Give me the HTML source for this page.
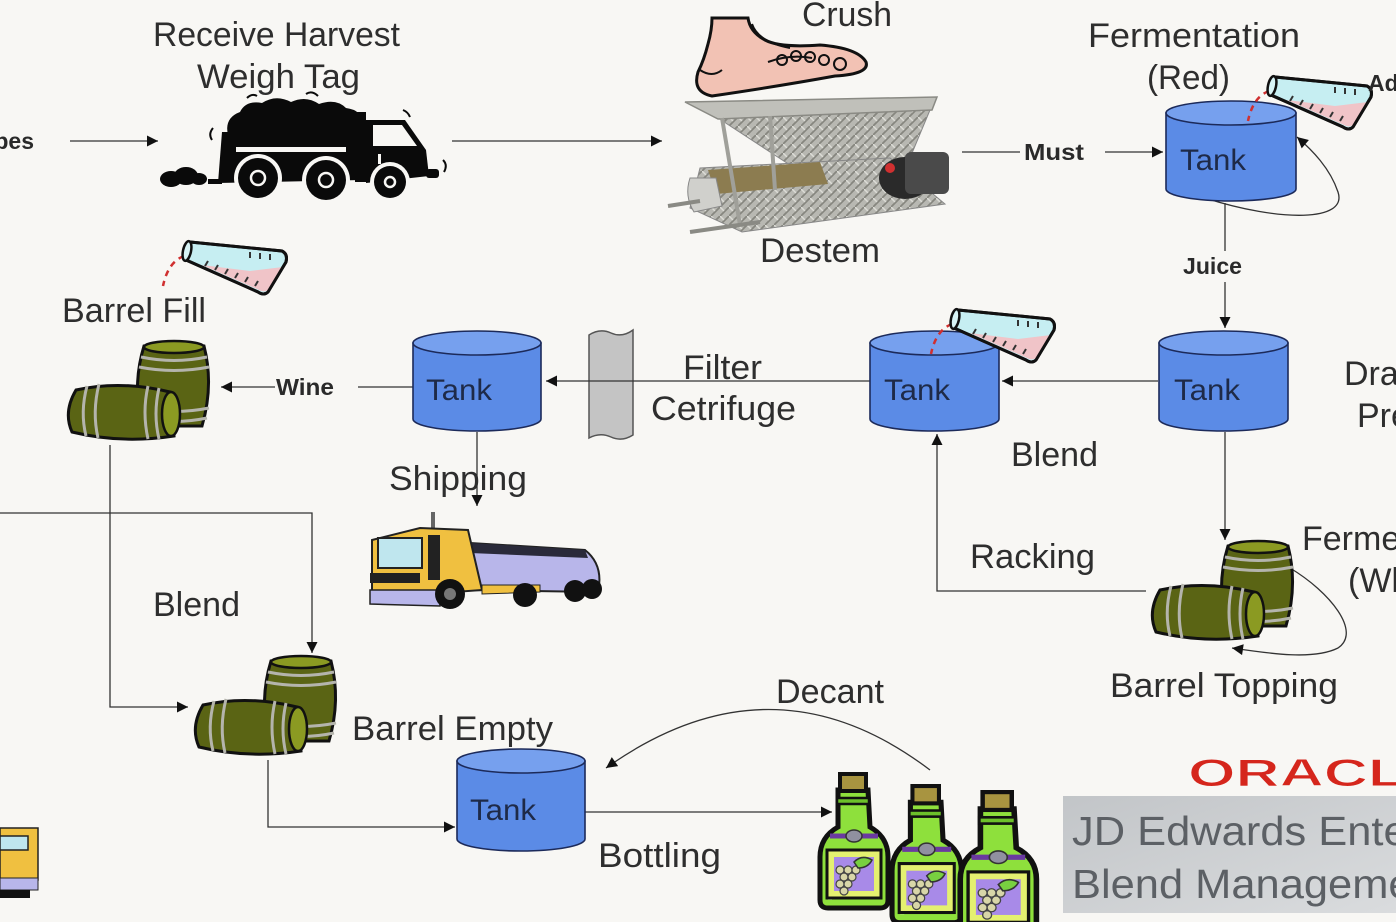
<!DOCTYPE html>
<html>
<head>
<meta charset="utf-8">
<style>
  html,body{margin:0;padding:0;background:#f8f7f4;}
  body{width:1396px;height:922px;overflow:hidden;}
  svg{display:block;}
  .lbl{font-family:"Liberation Sans",sans-serif;font-size:34px;fill:#2e2e2e;}
  .bl{font-family:"Liberation Sans",sans-serif;font-size:23px;font-weight:bold;fill:#2a2a2a;}
  .tk{font-family:"Liberation Sans",sans-serif;font-size:30px;fill:#1e2a48;}
  .ln{stroke:#333;stroke-width:1.3;fill:none;}
</style>
</head>
<body>
<svg width="1396" height="922" viewBox="0 0 1396 922" xmlns="http://www.w3.org/2000/svg">
<defs>
  <marker id="ah" viewBox="0 0 10 10" refX="10" refY="5" markerWidth="14" markerHeight="11" markerUnits="userSpaceOnUse" orient="auto">
    <path d="M0,0 L10,5 L0,10 Z" fill="#111"/>
  </marker>
  <pattern id="hatch" width="9" height="9" patternUnits="userSpaceOnUse">
    <rect width="9" height="9" fill="#b8b8b2"/>
    <path d="M0,9 L9,0" stroke="#86867f" stroke-width="1.8"/>
    <path d="M0,0 L4,4" stroke="#dcdcd6" stroke-width="1.5"/>
  </pattern>
  <linearGradient id="gbox" x1="0" y1="0" x2="1" y2="1">
    <stop offset="0" stop-color="#c2c5c8"/>
    <stop offset="1" stop-color="#dadcde"/>
  </linearGradient>
  <g id="barrels">
    <path d="M78,6 Q66,45 76,86 L136,86 Q148,45 138,6 Z" fill="#5a6414" stroke="#111" stroke-width="3"/>
    <ellipse cx="108" cy="7" rx="30" ry="6" fill="#8b9a22" stroke="#111" stroke-width="2.5"/>
    <path d="M75,17 Q108,24 141,17" stroke="#b4b4ac" stroke-width="3" fill="none"/>
    <path d="M73,27 Q108,34 143,27" stroke="#b4b4ac" stroke-width="3" fill="none"/>
    <path d="M73,68 Q108,75 143,68" stroke="#b4b4ac" stroke-width="3" fill="none"/>
    <path d="M75,78 Q108,85 141,78" stroke="#b4b4ac" stroke-width="3" fill="none"/>
    <path d="M10,50 Q55,40 104,52 L108,96 Q55,104 6,92 Q-3,72 10,50 Z" fill="#5a6414" stroke="#111" stroke-width="3"/>
    <ellipse cx="105" cy="74" rx="9" ry="22" fill="#8b9a22" stroke="#111" stroke-width="2.5"/>
    <path d="M21,46 Q14,72 20,96" stroke="#b4b4ac" stroke-width="3" fill="none"/>
    <path d="M33,44 Q26,72 32,98" stroke="#b4b4ac" stroke-width="3" fill="none"/>
    <path d="M82,46 Q76,72 82,99" stroke="#b4b4ac" stroke-width="3" fill="none"/>
    <path d="M93,48 Q87,74 93,99" stroke="#b4b4ac" stroke-width="3" fill="none"/>
  </g>
  <g id="flask">
    <path d="M24,16 Q8,22 3,46" stroke="#d03030" stroke-width="2.5" stroke-dasharray="6,5" fill="none"/>
    <path d="M30,2 L122,11 Q128,14 126,22 L108,52 Q104,56 98,52 L26,20 Z" fill="#c6eef2" stroke="#111" stroke-width="3"/>
    <path d="M42,25 L90,31 L123,27 L108,50 Q104,53 99,50 Z" fill="#f0c4c8"/>
    <path d="M45,26 L48,21 M55,30 L58,25 M65,34 L68,29 M75,38 L78,33 M85,42 L88,37 M95,46 L98,41 M90,12 L90,18 M100,13 L100,19 M110,14 L110,20" stroke="#333" stroke-width="2"/>
    <path d="M30,2 L122,11 Q128,14 126,22 L108,52 Q104,56 98,52 L26,20 Z" fill="none" stroke="#111" stroke-width="3"/>
    <ellipse cx="27" cy="11" rx="4" ry="10" fill="#d8f4f6" stroke="#111" stroke-width="2.5" transform="rotate(12 27 11)"/>
  </g>
  <g id="bottle">
    <path d="M20,18 L50,18 L52,55 Q70,65 70,85 L70,128 Q70,136 62,136 L10,136 Q2,136 2,128 L2,85 Q2,65 20,55 Z" fill="#8ee03c" stroke="#111" stroke-width="5"/>
    <path d="M12,80 L12,128" stroke="#c6f48a" stroke-width="4"/>
    <rect x="22" y="2" width="26" height="17" fill="#a89440" stroke="#111" stroke-width="4"/>
    <rect x="19" y="26" width="32" height="6" fill="#6cc02a" stroke="#111" stroke-width="2.5"/>
    <path d="M12,64 L60,64" stroke="#6a3aa0" stroke-width="5"/>
    <ellipse cx="36" cy="64" rx="8" ry="6" fill="#9090a0" stroke="#333" stroke-width="1.5"/>
    <rect x="9" y="78" width="54" height="48" fill="#e4f070" stroke="#111" stroke-width="3"/>
    <rect x="16" y="85" width="40" height="34" fill="#a88ae8"/>
    <g fill="#d8d6a8" stroke="#444" stroke-width="1.2">
      <circle cx="22" cy="98" r="4"/><circle cx="30" cy="98" r="4"/><circle cx="38" cy="98" r="4"/>
      <circle cx="26" cy="105" r="4"/><circle cx="34" cy="105" r="4"/>
      <circle cx="22" cy="112" r="4"/><circle cx="30" cy="112" r="4"/>
      <circle cx="26" cy="119" r="4"/>
    </g>
    <path d="M36,90 Q44,82 54,88 Q50,96 40,96 Z" fill="#78d040" stroke="#333" stroke-width="1.5"/>
  </g>
</defs>

<rect width="1396" height="922" fill="#f8f7f4"/>

<!-- ============ Connectors ============ -->
<line class="ln" x1="70" y1="141" x2="158" y2="141" marker-end="url(#ah)"/>
<line class="ln" x1="452" y1="141" x2="662" y2="141" marker-end="url(#ah)"/>
<line class="ln" x1="962" y1="152" x2="1020" y2="152"/>
<line class="ln" x1="1105" y1="152" x2="1163" y2="152" marker-end="url(#ah)"/>
<path class="ln" d="M1205,198 C1280,222 1348,222 1338,192 C1330,168 1312,150 1297,137" marker-end="url(#ah)"/>
<line class="ln" x1="1225" y1="203" x2="1225" y2="251"/>
<line class="ln" x1="1225" y1="282" x2="1225" y2="328" marker-end="url(#ah)"/>
<line class="ln" x1="1158" y1="381" x2="1002" y2="381" marker-end="url(#ah)"/>
<line class="ln" x1="1225" y1="432" x2="1225" y2="540" marker-end="url(#ah)"/>
<path class="ln" d="M1146,591 L937,591 L937,434" marker-end="url(#ah)"/>
<path class="ln" d="M1290,568 C1330,592 1362,632 1338,648 C1314,660 1272,654 1232,648" marker-end="url(#ah)"/>
<line class="ln" x1="413" y1="387" x2="358" y2="387"/>
<line class="ln" x1="275" y1="387" x2="221" y2="387" marker-end="url(#ah)"/>
<line class="ln" x1="477" y1="432" x2="477" y2="506" marker-end="url(#ah)"/>
<path class="ln" d="M110,445 L110,707 L188,707" marker-end="url(#ah)"/>
<path class="ln" d="M0,513 L312,513 L312,653" marker-end="url(#ah)"/>
<path class="ln" d="M268,760 L268,827 L455,827" marker-end="url(#ah)"/>
<line class="ln" x1="585" y1="812" x2="832" y2="812" marker-end="url(#ah)"/>
<path class="ln" d="M930,770 Q772,650 606,768" marker-end="url(#ah)"/>

<!-- Filter -->
<path d="M589,335 Q600,328 611,333 Q622,338 633,330 L633,435 Q622,442 611,437 Q600,432 589,438 Z" fill="#c4c4c4" stroke="#555" stroke-width="1.5"/>
<line class="ln" x1="870" y1="381" x2="546" y2="381" marker-end="url(#ah)"/>

<!-- ============ Tanks ============ -->
<g stroke="#1c2a5a" stroke-width="1.6">
  <path d="M1166,113 V189 A65,12 0 0 0 1296,189 V113 Z" fill="#5b8be6"/>
  <ellipse cx="1231" cy="113" rx="65" ry="12" fill="#76a0ee"/>
  <path d="M1159,343 V419 A64.5,12 0 0 0 1288,419 V343 Z" fill="#5b8be6"/>
  <ellipse cx="1223.5" cy="343" rx="64.5" ry="12" fill="#76a0ee"/>
  <path d="M870,343 V419 A64.5,12 0 0 0 999,419 V343 Z" fill="#5b8be6"/>
  <ellipse cx="934.5" cy="343" rx="64.5" ry="12" fill="#76a0ee"/>
  <path d="M413,343 V419 A64,12 0 0 0 541,419 V343 Z" fill="#5b8be6"/>
  <ellipse cx="477" cy="343" rx="64" ry="12" fill="#76a0ee"/>
  <path d="M457,761 V839 A64,12 0 0 0 585,839 V761 Z" fill="#5b8be6"/>
  <ellipse cx="521" cy="761" rx="64" ry="12" fill="#76a0ee"/>
</g>
<text class="tk" x="1180" y="170" textLength="66" lengthAdjust="spacingAndGlyphs">Tank</text>
<text class="tk" x="1174" y="400" textLength="66" lengthAdjust="spacingAndGlyphs">Tank</text>
<text class="tk" x="884" y="400" textLength="66" lengthAdjust="spacingAndGlyphs">Tank</text>
<text class="tk" x="426" y="400" textLength="66" lengthAdjust="spacingAndGlyphs">Tank</text>
<text class="tk" x="470" y="820" textLength="66" lengthAdjust="spacingAndGlyphs">Tank</text>

<!-- Flasks -->
<use href="#flask" x="1245" y="75"/>
<use href="#flask" x="928" y="308"/>
<use href="#flask" x="160" y="240"/>

<!-- Barrels -->
<use href="#barrels" x="66" y="340"/>
<use href="#barrels" x="193" y="655"/>
<use href="#barrels" x="1150" y="540"/>

<!-- Bottles -->
<use href="#bottle" transform="translate(818,772)"/>
<use href="#bottle" transform="translate(890,784) scale(1.02,1.02)"/>
<use href="#bottle" transform="translate(958,790) scale(1.12,1.05)"/>

<!-- ============ Dump truck ============ -->
<g>
  <path d="M228,135 Q224,118 240,112 Q246,100 262,103 Q276,94 291,102 Q306,95 319,104 Q336,98 346,108 Q362,110 364,124 L372,135 Z" fill="#0a0a0a"/>
  <path d="M222,132 L362,132 L362,180 L218,183 Z" fill="#0a0a0a"/>
  <rect x="355" y="112" width="11" height="70" fill="#0a0a0a"/>
  <rect x="236" y="147" width="110" height="5" fill="#f8f7f4"/>
  <path d="M366,120 L405,120 L426,150 L429,176 L366,183 Z" fill="#0a0a0a"/>
  <path d="M373,125 L402,125 L417,146 L373,146 Z" fill="#f8f7f4"/>
  <rect x="378" y="154" width="3" height="10" fill="#f8f7f4"/>
  <circle cx="258" cy="178" r="24" fill="#f8f7f4"/>
  <circle cx="326" cy="180" r="24" fill="#f8f7f4"/>
  <circle cx="390" cy="182" r="20" fill="#f8f7f4"/>
  <circle cx="258" cy="178" r="20" fill="#0a0a0a"/>
  <circle cx="326" cy="180" r="20" fill="#0a0a0a"/>
  <circle cx="390" cy="182" r="16" fill="#0a0a0a"/>
  <circle cx="258" cy="178" r="7" fill="none" stroke="#f8f7f4" stroke-width="2.5"/>
  <circle cx="326" cy="180" r="7" fill="none" stroke="#f8f7f4" stroke-width="2.5"/>
  <circle cx="390" cy="182" r="5" fill="none" stroke="#f8f7f4" stroke-width="2.5"/>
  <ellipse cx="171" cy="179" rx="11" ry="8" fill="#0a0a0a"/>
  <ellipse cx="186" cy="176" rx="12" ry="9" fill="#0a0a0a"/>
  <ellipse cx="199" cy="179" rx="8" ry="6" fill="#0a0a0a"/>
  <rect x="208" y="179" width="14" height="5" fill="#0a0a0a"/>
  <rect x="426" y="169" width="13" height="9" rx="3" fill="#0a0a0a"/>
  <path d="M213,128 Q208,134 212,140 M247,98 Q252,93 257,96 M306,94 Q312,90 318,96 M443,160 Q448,165 444,172 M403,110 Q408,112 410,117" stroke="#0a0a0a" stroke-width="2" fill="none"/>
</g>

<!-- ============ Foot ============ -->
<path d="M712,18 L748,18 Q750,32 765,40 Q780,48 820,45 Q858,48 866,62 Q870,74 835,76 Q780,86 712,96 Q692,92 698,72 Q704,60 708,44 Q712,30 712,18 Z" fill="#f2c2b4" stroke="#111" stroke-width="3"/>
<path d="M752,24 Q758,42 790,48 M768,62 Q790,54 812,58 M700,70 Q712,78 722,70" stroke="#111" stroke-width="2" fill="none"/>
<g fill="none" stroke="#111" stroke-width="2">
  <circle cx="782" cy="60" r="5"/><circle cx="796" cy="56" r="5"/><circle cx="810" cy="57" r="5"/><circle cx="824" cy="60" r="5"/><circle cx="840" cy="64" r="6"/>
</g>

<!-- ============ Destemmer ============ -->
<g>
  <path d="M718,118 L930,110 L905,170 L790,165 Z" fill="url(#hatch)" stroke="#888" stroke-width="1"/>
  <path d="M700,168 L890,158 L945,204 L742,232 L690,208 Z" fill="url(#hatch)" stroke="#888" stroke-width="1"/>
  <path d="M708,170 L820,162 L828,184 L716,194 Z" fill="#8c7c50"/>
  <path d="M685,102 L937,97 L932,110 L718,119 Z" fill="#c0c0ba" stroke="#8a8a84" stroke-width="1.5"/>
  <path d="M690,178 Q684,196 694,212 L722,206 L716,178 Z" fill="#d0d0cc" stroke="#888"/>
  <ellipse cx="905" cy="178" rx="26" ry="21" fill="#2a2a2a"/>
  <rect x="905" y="152" width="44" height="42" rx="6" fill="#4a4a4a"/>
  <circle cx="890" cy="168" r="5" fill="#d03030"/>
  <line x1="722" y1="118" x2="740" y2="225" stroke="#a0a09a" stroke-width="4"/>
  <line x1="770" y1="116" x2="775" y2="190" stroke="#a0a09a" stroke-width="4"/>
  <line x1="668" y1="206" x2="700" y2="201" stroke="#8a8a84" stroke-width="4"/>
  <line x1="690" y1="232" x2="760" y2="222" stroke="#8a8a84" stroke-width="4"/>
</g>

<!-- ============ Tanker truck ============ -->
<g>
  <line x1="433" y1="512" x2="433" y2="538" stroke="#666" stroke-width="4"/>
  <path d="M470,543 L585,550 Q604,565 598,592 L470,590 Z" fill="#b8b6ea" stroke="#222" stroke-width="2"/>
  <path d="M470,543 L585,550 L588,558 L470,553 Z" fill="#2a2a3a"/>
  <path d="M372,540 L420,528 L468,530 L482,590 L372,598 Z" fill="#f0c040" stroke="#222" stroke-width="2"/>
  <rect x="378" y="538" width="44" height="30" fill="#bfe6ee" stroke="#222" stroke-width="2"/>
  <rect x="428" y="535" width="12" height="45" fill="#222"/>
  <rect x="370" y="573" width="50" height="10" fill="#222"/>
  <path d="M370,590 L440,590 L440,606 L370,604 Z" fill="#b8b6ea" stroke="#222" stroke-width="1.5"/>
  <path d="M482,585 L540,585 L540,592 L482,594 Z" fill="#f0c040" stroke="#222" stroke-width="1"/>
  <circle cx="450" cy="594" r="15" fill="#111"/><circle cx="450" cy="594" r="6" fill="#777"/>
  <circle cx="525" cy="595" r="12" fill="#111"/>
  <circle cx="575" cy="591" r="11" fill="#111"/><circle cx="592" cy="589" r="10" fill="#111"/>
</g>

<!-- partial truck bottom-left -->
<g>
  <rect x="0" y="828" width="38" height="52" fill="#f0c040" stroke="#222" stroke-width="1.5"/>
  <rect x="0" y="836" width="28" height="14" fill="#bfe6ee" stroke="#222" stroke-width="1.5"/>
  <rect x="0" y="878" width="38" height="12" fill="#b8b6ea" stroke="#222" stroke-width="1"/>
  <rect x="0" y="890" width="30" height="8" fill="#111"/>
</g>

<!-- ============ Labels ============ -->
<text class="lbl" x="153" y="46" textLength="247" lengthAdjust="spacingAndGlyphs">Receive Harvest</text>
<text class="lbl" x="197" y="88" textLength="163" lengthAdjust="spacingAndGlyphs">Weigh Tag</text>
<text class="bl" x="34" y="149" text-anchor="end">Grapes</text>
<text class="lbl" x="802" y="26" textLength="90" lengthAdjust="spacingAndGlyphs">Crush</text>
<text class="lbl" x="760" y="262" textLength="120" lengthAdjust="spacingAndGlyphs">Destem</text>
<text class="bl" x="1024" y="160" textLength="60" lengthAdjust="spacingAndGlyphs">Must</text>
<text class="lbl" x="1088" y="47" textLength="212" lengthAdjust="spacingAndGlyphs">Fermentation</text>
<text class="lbl" x="1147" y="89" textLength="83" lengthAdjust="spacingAndGlyphs">(Red)</text>
<text class="bl" x="1368" y="91">Additive</text>
<text class="bl" x="1183" y="274" textLength="59" lengthAdjust="spacingAndGlyphs">Juice</text>
<text class="lbl" x="1344" y="385">Drain</text>
<text class="lbl" x="1357" y="427">Press</text>
<text class="lbl" x="683" y="379" textLength="79" lengthAdjust="spacingAndGlyphs">Filter</text>
<text class="lbl" x="651" y="420" textLength="145" lengthAdjust="spacingAndGlyphs">Cetrifuge</text>
<text class="lbl" x="1011" y="466" textLength="87" lengthAdjust="spacingAndGlyphs">Blend</text>
<text class="lbl" x="970" y="568" textLength="125" lengthAdjust="spacingAndGlyphs">Racking</text>
<text class="lbl" x="1302" y="550">Fermentation</text>
<text class="lbl" x="1348" y="592">(White)</text>
<text class="lbl" x="1110" y="697" textLength="228" lengthAdjust="spacingAndGlyphs">Barrel Topping</text>
<text class="bl" x="276" y="395" textLength="58" lengthAdjust="spacingAndGlyphs">Wine</text>
<text class="lbl" x="62" y="322" textLength="144" lengthAdjust="spacingAndGlyphs">Barrel Fill</text>
<text class="lbl" x="389" y="490" textLength="138" lengthAdjust="spacingAndGlyphs">Shipping</text>
<text class="lbl" x="153" y="616" textLength="87" lengthAdjust="spacingAndGlyphs">Blend</text>
<text class="lbl" x="352" y="740" textLength="201" lengthAdjust="spacingAndGlyphs">Barrel Empty</text>
<text class="lbl" x="776" y="703" textLength="108" lengthAdjust="spacingAndGlyphs">Decant</text>
<text class="lbl" x="598" y="867" textLength="123" lengthAdjust="spacingAndGlyphs">Bottling</text>

<!-- ============ Oracle footer ============ -->
<text x="1188" y="786" font-family="Liberation Sans, sans-serif" font-size="39" font-weight="bold" fill="#d5261c" stroke="#f8f7f4" stroke-width="1" textLength="258" lengthAdjust="spacingAndGlyphs">ORACLE</text>
<rect x="1063" y="796" width="340" height="117" fill="url(#gbox)"/>
<g transform="translate(1072,0) scale(1.06,1) translate(-1072,0)">
<text x="1072" y="845" font-family="Liberation Sans, sans-serif" font-size="41" fill="#5c6065">JD Edwards EnterpriseOne</text>
<text x="1072" y="898" font-family="Liberation Sans, sans-serif" font-size="41" fill="#5c6065">Blend Management</text>
</g>
</svg>
</body>
</html>
